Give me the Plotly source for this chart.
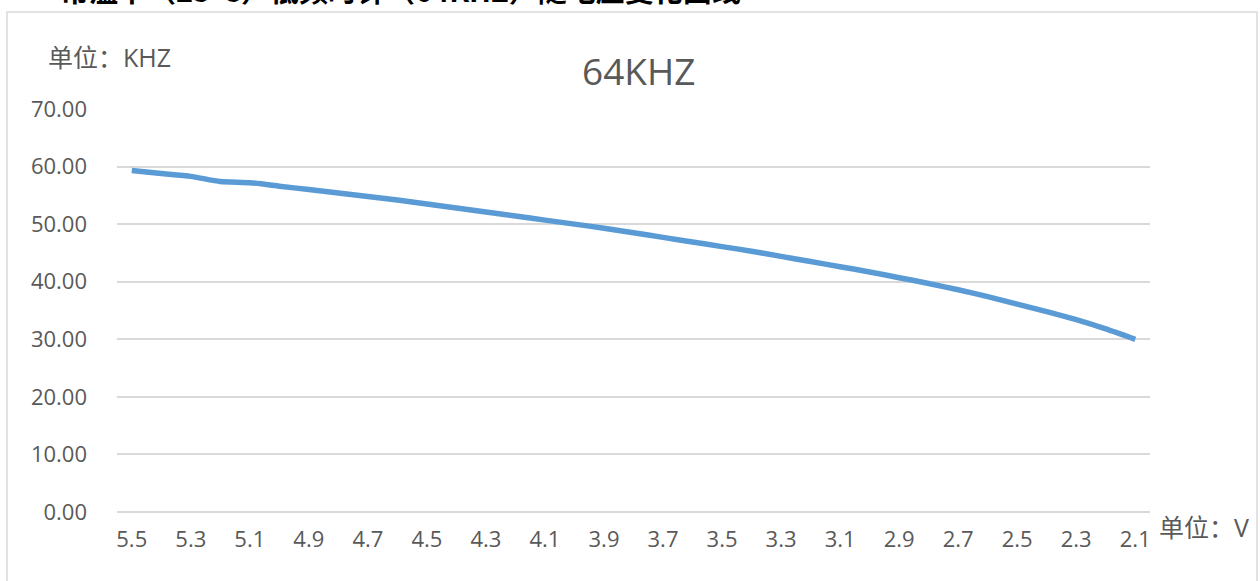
import plotly.graph_objects as go

# ---- data ----
voltages = ["5.5", "5.4", "5.3", "5.2", "5.1", "5.0", "4.9", "4.8", "4.7", "4.6",
            "4.5", "4.4", "4.3", "4.2", "4.1", "4.0", "3.9", "3.8", "3.7", "3.6",
            "3.5", "3.4", "3.3", "3.2", "3.1", "3.0", "2.9", "2.8", "2.7", "2.6",
            "2.5", "2.4", "2.3", "2.2", "2.1"]
freq_khz = [59.3, 58.8, 58.3, 57.4, 57.2, 56.6, 56.0, 55.4, 54.8, 54.2,
            53.5, 52.8, 52.1, 51.4, 50.7, 50.0, 49.3, 48.5, 47.7, 46.9,
            46.1, 45.3, 44.4, 43.5, 42.6, 41.7, 40.7, 39.7, 38.6, 37.4,
            36.1, 34.8, 33.4, 31.8, 30.0]
x_ticks = voltages[::2]
y_ticks = [0, 10, 20, 30, 40, 50, 60, 70]
y_tick_text = [f"{v:.2f}" for v in y_ticks]

chart_title = "64KHZ"
page_title = "常温下（25°C）低频时钟（64KHZ）随电压变化曲线"
y_unit = "单位：KHZ"
x_unit = "单位：V"

# ---- layout constants (pixels) ----
W, H = 1260, 581
L, R, T, B = 117, 110, 109, 69
PW, PH = W - L - R, H - T - B

def px(x):
    return (x - L) / PW

def py(y):
    return (H - B - y) / PH

FONT = "Open Sans, Noto Sans CJK SC"
CJK = "Noto Sans CJK SC"
GRAY = "#595959"
GRID = "#d9d9d9"

fig = go.Figure()
fig.add_trace(go.Scatter(
    x=voltages, y=freq_khz, mode="lines",
    line=dict(color="#5b9bd5", width=5.5, shape="spline", smoothing=0.6),
    hoverinfo="x+y", showlegend=False,
))

fig.update_layout(
    width=W, height=H,
    margin=dict(l=L, r=R, t=T, b=B),
    paper_bgcolor="white", plot_bgcolor="white",
    font=dict(family=FONT, color=GRAY, size=22),
    xaxis=dict(
        type="category", range=[-0.5, len(voltages) - 0.5],
        tickmode="array", tickvals=x_ticks, ticktext=x_ticks,
        showgrid=False, showline=False, zeroline=False, ticks="",
        ticklabelstandoff=12,
        tickfont=dict(family=FONT, size=22, color=GRAY),
    ),
    yaxis=dict(
        range=[0, 70], tickmode="array", tickvals=y_ticks, ticktext=y_tick_text,
        showgrid=True, gridcolor=GRID, gridwidth=1.5,
        zeroline=True, zerolinecolor=GRID, zerolinewidth=1.5,
        showline=False, ticks="", ticklabelstandoff=29,
        tickfont=dict(family=FONT, size=22, color=GRAY),
    ),
    shapes=[
        dict(type="rect", xref="paper", yref="paper",
             x0=px(7), x1=px(1257), y0=py(600), y1=py(12),
             line=dict(color=GRID, width=1.5), fillcolor="rgba(0,0,0,0)", layer="below"),
    ],
    annotations=[
        dict(text=chart_title, xref="paper", yref="paper", x=px(638), y=py(70),
             xanchor="center", yanchor="middle", showarrow=False,
             font=dict(family=FONT, size=37, color=GRAY)),
        dict(text=y_unit, xref="paper", yref="paper", x=px(46), y=py(57),
             xanchor="left", yanchor="middle", showarrow=False,
             font=dict(family=FONT, size=25, color=GRAY)),
        dict(text=x_unit, xref="paper", yref="paper", x=px(1157), y=py(527),
             xanchor="left", yanchor="middle", showarrow=False,
             font=dict(family=FONT, size=25, color=GRAY)),
        dict(text="<b>" + page_title + "</b>", xref="paper", yref="paper",
             x=px(400), y=py(12), xanchor="center", yanchor="bottom", showarrow=False,
             font=dict(family=CJK, size=29, color="#000000")),
    ],
)

fig.write_html("out.html", config={"displayModeBar": False},
               post_script="document.body.style.margin='0';")
